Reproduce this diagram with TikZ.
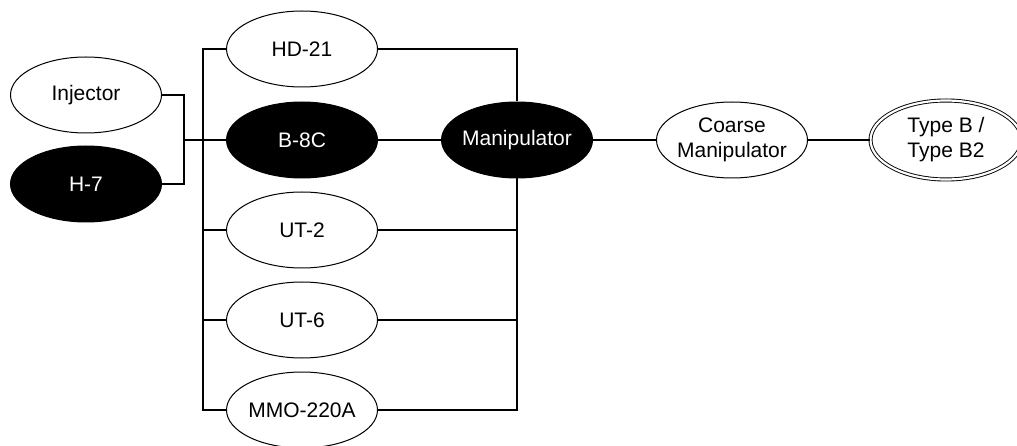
\documentclass[tikz,border=0pt]{standalone}
\usepackage{fontspec}
\setmainfont{Liberation Sans}
\usetikzlibrary{shapes.geometric}

\tikzset{
  unit/.style={ellipse, draw=black, line width=1pt, fill=white,
    minimum width=151pt, minimum height=76pt,
    inner xsep=-4pt, inner ysep=0pt, align=center,
    font=\fontsize{21}{25}\selectfont},
  darkunit/.style={unit, fill=black, text=white},
  finalunit/.style={unit, minimum width=151pt, minimum height=79pt,
    line width=0.9pt, double=white, double distance=2.2pt},
  link/.style={draw=black, line width=2.4pt, line join=miter}
}

\begin{document}
\begin{tikzpicture}[x=1pt, y=-1pt]
  \useasboundingbox (0,0) rectangle (1017,446);

  % junction points of the wiring
  \coordinate (merge) at (184,140);
  \coordinate (bustop) at (203,49);
  \coordinate (busbot) at (203,410);

  % nodes
  \node[unit]     (inj)    at (86,95)   {Injector};
  \node[darkunit] (h7)     at (86,184)  {H-7};
  \node[unit]     (hd)     at (302,49)  {HD-21};
  \node[darkunit] (b8c)    at (302,140) {B-8C};
  \node[unit]     (ut2)    at (302,230) {UT-2};
  \node[unit]     (ut6)    at (302,320) {UT-6};
  \node[unit]     (mmo)    at (302,410) {MMO-220A};
  \node[darkunit] (man)    at (517,140) {Manipulator};
  \node[unit]     (coarse) at (732,140) {Coarse\\Manipulator};
  \node[finalunit] (typeb) at (946,140) {Type B /\\Type B2};

  % sources merged into the second stage
  \draw[link] (inj.east) -| (merge) |- (h7.east);
  \draw[link] (merge) -- (b8c.west);

  % left bus
  \draw[link] (hd.west) -- (bustop) -- (busbot) -- (mmo.west);
  \draw[link] (ut2.west) -- (ut2.west -| bustop);
  \draw[link] (ut6.west) -- (ut6.west -| bustop);

  % right bus into the manipulator
  \draw[link] (hd.east) -| (man.north);
  \draw[link] (mmo.east) -| (man.south);
  \draw[link] (ut2.east) -- (ut2.east -| man.south);
  \draw[link] (ut6.east) -- (ut6.east -| man.south);
  \draw[link] (b8c.east) -- (man.west);

  % output chain
  \draw[link] (man.east) -- (coarse.west);
  \draw[link] (coarse.east) -- (typeb.west);
\end{tikzpicture}
\end{document}
